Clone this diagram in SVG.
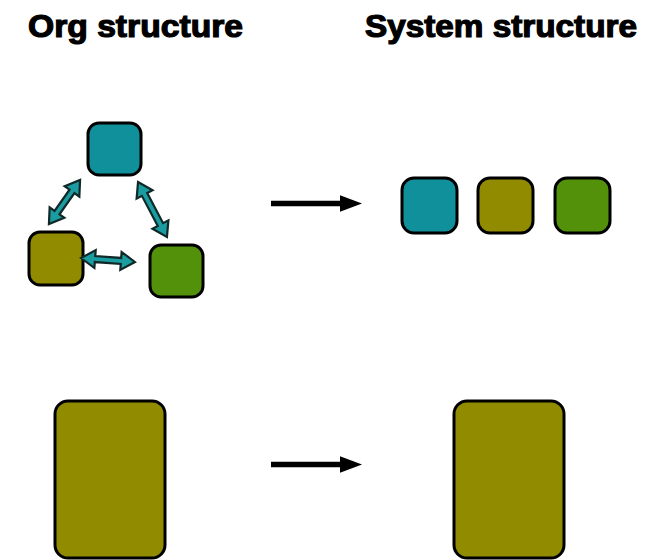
<svg xmlns="http://www.w3.org/2000/svg" width="661" height="560" viewBox="0 0 661 560">
<style>
.title{font-family:"Liberation Sans",Arial,sans-serif;font-weight:bold;font-size:31px;fill:#000;stroke:#000;stroke-width:1.2}
.box{stroke:#000;stroke-width:3}
.teal{fill:#10909a}
.olive{fill:#918b00}
.green{fill:#53910b}
.dbl{fill:#1a9ca0;stroke:#102828;stroke-width:2.2;stroke-linejoin:miter}
</style>
<defs>
<marker id="ah" markerWidth="4" markerHeight="3" refX="0" refY="1.5" orient="auto" markerUnits="strokeWidth">
<path d="M0,0 L4,1.5 L0,3 Z" fill="#000"/>
</marker>
</defs>
<rect width="661" height="560" fill="#fff"/>
<text class="title" x="28" y="37" textLength="215" lengthAdjust="spacingAndGlyphs">Org structure</text>
<text class="title" x="365" y="37" textLength="272" lengthAdjust="spacingAndGlyphs">System structure</text>

<g id="org-teal"><rect class="box teal" x="88" y="123" width="53" height="52" rx="11"/></g>
<g id="org-olive"><rect class="box olive" x="29" y="232" width="54" height="53" rx="11"/></g>
<g id="org-green"><rect class="box green" x="150" y="245" width="53" height="52" rx="11"/></g>

<g id="sys-teal"><rect class="box teal" x="402" y="178" width="55" height="55" rx="12"/></g>
<g id="sys-olive"><rect class="box olive" x="478" y="178" width="55" height="55" rx="12"/></g>
<g id="sys-green"><rect class="box green" x="555" y="178" width="55" height="55" rx="12"/></g>

<g id="org-big"><rect class="box olive" x="55" y="401" width="110" height="157" rx="13"/></g>
<g id="sys-big"><rect class="box olive" x="454" y="401" width="110" height="157" rx="13"/></g>

<g id="connectors">
<polygon class="dbl" transform="translate(64.5,202) rotate(-54.8)" points="-27,0 -13,-9 -13,-3 13,-3 13,-9 27,0 13,9 13,3 -13,3 -13,9"/>
<polygon class="dbl" transform="translate(152.5,209.5) rotate(62.2)" points="-31,0 -17,-9 -17,-3 17,-3 17,-9 31,0 17,9 17,3 -17,3 -17,9"/>
<polygon class="dbl" transform="translate(108,260) rotate(4.2)" points="-27,0 -13,-9 -13,-3 13,-3 13,-9 27,0 13,9 13,3 -13,3 -13,9"/>
<line x1="271" y1="203.5" x2="340" y2="203.5" stroke="#000" stroke-width="5.5" marker-end="url(#ah)"/>
<line x1="271" y1="464.5" x2="340" y2="464.5" stroke="#000" stroke-width="5.5" marker-end="url(#ah)"/>
</g>
</svg>
